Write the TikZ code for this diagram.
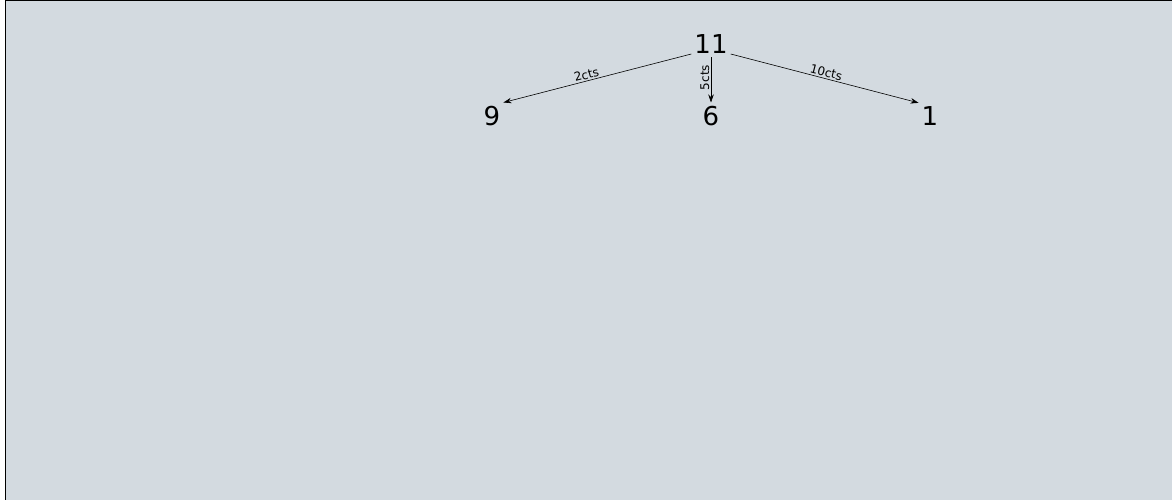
\documentclass[tikz,border=0pt]{standalone}
\usepackage{fontspec}
\setmainfont{DejaVu Sans}
\usetikzlibrary{arrows.meta}
\definecolor{paneBg}{RGB}{211,218,224}
\def\pageW{1172}
\def\pageH{500}
\tikzset{
  numNode/.style={inner sep=3pt,font=\fontsize{26}{30}\selectfont,anchor=base},
  costArrow/.style={draw,line width=0.6pt,-{Stealth[length=8pt,width=5.5pt]}},
  costLabel/.style={font=\fontsize{12}{14}\selectfont,inner sep=1.5pt}
}
\begin{document}
\begin{tikzpicture}[x=1pt,y=1pt]
    % frame and background
    \useasboundingbox (0,0) rectangle (\pageW,-\pageH);
    \fill[white] (0,0) rectangle (\pageW,-\pageH);
    \fill[paneBg] (5,0) rectangle (\pageW,-\pageH);
    \draw[line width=1.2pt] (5.6,-\pageH) -- (5.6,-0.6) -- (\pageW,-0.6);

    \node[numNode] (eleven) at (711,-54) {11};
    \node[numNode] (nine)   at (492,-125) {9};
    \node[numNode] (six)    at (711,-125) {6};
    \node[numNode] (one)    at (930,-125) {1};

    \draw[costArrow] (eleven.base west) -- node[costLabel,pos=0.55,sloped,above] {2cts} (nine.north east);
    \draw[costArrow] (eleven.south) -- node[costLabel,pos=0.45,rotate=90,above] {5cts} (six.north);
    \draw[costArrow] (eleven.base east) -- node[costLabel,pos=0.5,sloped,above] {10cts} (one.north west);
  \end{tikzpicture}
\end{document}
